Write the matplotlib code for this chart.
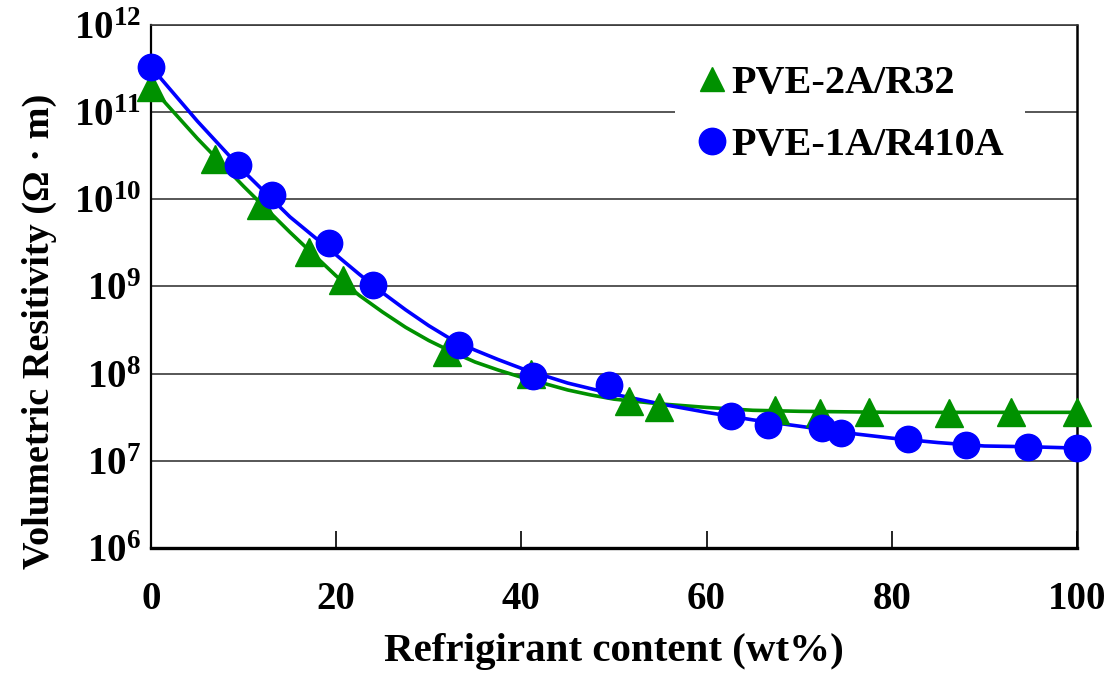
import matplotlib
matplotlib.use("Agg")
import matplotlib.pyplot as plt
from matplotlib.lines import Line2D
from matplotlib.ticker import NullLocator, FixedLocator

plt.rcParams['font.family'] = ['Liberation Serif', 'DejaVu Serif']
plt.rcParams['font.weight'] = 'bold'
plt.rcParams['mathtext.fontset'] = 'custom'
plt.rcParams['mathtext.rm'] = 'Liberation Serif:bold'
plt.rcParams['mathtext.bf'] = 'Liberation Serif:bold'
plt.rcParams['mathtext.it'] = 'Liberation Serif:bold'

# Measured resistivity, PVE-2A oil with R32
r32_content = [0, 6.9, 11.9, 17.1, 20.7, 32.0, 41.0, 51.6, 54.9, 67.4, 72.2, 77.5, 86.2, 92.9, 100]
r32_resist = [1.95e11, 2.9e10, 8.7e9, 2.5e9, 1.2e9, 1.75e8, 1.0e8, 4.8e7, 4.1e7,
              3.8e7, 3.55e7, 3.6e7, 3.55e7, 3.6e7, 3.6e7]

# Measured resistivity, PVE-1A oil with R410A
r410a_content = [0, 9.4, 13.1, 19.2, 24.0, 33.3, 41.2, 49.5, 62.6, 66.6, 72.5, 74.5, 81.8, 88.0, 94.7, 100]
r410a_resist = [3.3e11, 2.45e10, 1.12e10, 3.15e9, 1.05e9, 2.15e8, 9.3e7, 7.4e7, 3.3e7,
                2.6e7, 2.35e7, 2.1e7, 1.8e7, 1.5e7, 1.45e7, 1.4e7]

# Trend curves
r32_curve_x = [0, 5, 10, 15, 20, 22.5, 25, 27.5, 30, 32.5, 35, 37.5, 40, 42.5, 45, 47.5,
               50, 55, 60, 65, 70, 80, 90, 100]
r32_curve_y = [1.95e11, 5.0e10, 1.41e10, 4.2e9, 1.32e9, 7.9e8, 5.1e8, 3.4e8, 2.4e8, 1.78e8,
               1.36e8, 1.1e8, 9.1e7, 7.7e7, 6.5e7, 5.7e7, 5.1e7, 4.5e7, 4.1e7, 3.8e7,
               3.7e7, 3.6e7, 3.6e7, 3.6e7]

r410a_curve_x = [0, 5, 10, 15, 20, 22.5, 25, 27.5, 30, 32.5, 35, 37.5, 40, 45, 50, 55, 60,
                 65, 70, 75, 80, 85, 90, 95, 100]
r410a_curve_y = [3.3e11, 7.9e10, 2.1e10, 6.3e9, 2.3e9, 1.38e9, 8.5e8, 5.4e8, 3.55e8, 2.45e8,
                 1.86e8, 1.45e8, 1.15e8, 7.8e7, 5.8e7, 4.5e7, 3.6e7, 2.95e7, 2.5e7, 2.1e7,
                 1.82e7, 1.62e7, 1.48e7, 1.45e7, 1.4e7]

x_ticks = [0, 20, 40, 60, 80, 100]
y_exponents = [6, 7, 8, 9, 10, 11, 12]

green = '#009100'
blue = '#0000ff'

W, H = 1111, 678
fig = plt.figure(figsize=(W / 100, H / 100), dpi=100)
ax = fig.add_axes([151 / W, 1 - 548 / H, (1077 - 151) / W, (548 - 25) / H])

ax.set_yscale('log')
ax.set_xlim(0, 100)
ax.set_ylim(1e6, 1e12)

ax.yaxis.set_major_locator(FixedLocator([10.0 ** e for e in y_exponents]))
ax.yaxis.set_minor_locator(NullLocator())
ax.set_yticklabels([r'$\mathbf{10^{%d}}$' % e for e in y_exponents])
ax.set_xticks(x_ticks)
ax.set_xticklabels([str(t) for t in x_ticks])

ax.grid(axis='y', color='#3a3a3a', linewidth=1.2)
ax.set_axisbelow(True)
ax.tick_params(axis='y', length=0, pad=7, labelsize=28)
ax.tick_params(axis='x', direction='in', length=12, width=1.2, pad=24, labelsize=28)

ax.spines['top'].set_color('#3a3a3a')
ax.spines['top'].set_linewidth(1.2)
ax.spines['left'].set_linewidth(1.6)
ax.spines['right'].set_linewidth(1.8)
ax.spines['bottom'].set_linewidth(2.4)

# Trend curves
ax.plot(r32_curve_x, r32_curve_y, color=green, linewidth=2.6, zorder=3, clip_on=False)
ax.plot(r410a_curve_x, r410a_curve_y, color=blue, linewidth=2.6, zorder=4, clip_on=False)

# Data markers
ax.plot(r32_content, r32_resist, linestyle='none', marker='^', markersize=20,
        color=green, zorder=5, clip_on=False)
ax.plot(r410a_content, r410a_resist, linestyle='none', marker='o', markersize=19,
        color=blue, zorder=6, clip_on=False)

handles = [
    Line2D([], [], linestyle='none', marker='^', markersize=17, color=green),
    Line2D([], [], linestyle='none', marker='o', markersize=19, color=blue),
]
leg = ax.legend(handles, ['PVE-2A/R32', 'PVE-1A/R410A'], loc='center',
                bbox_to_anchor=(850 / W, 1 - 114.5 / H), bbox_transform=fig.transFigure,
                fontsize=29, frameon=True, facecolor='white', edgecolor='none',
                framealpha=1.0, fancybox=False, handlelength=0.8, handletextpad=0.1,
                borderpad=0.52, labelspacing=0.62)
leg.set_zorder(10)

fig.text(614 / W, 1 - 652 / H, 'Refrigirant content (wt%)', ha='center', va='center',
         fontsize=29.5, fontweight='bold')
fig.text(39 / W, 1 - 331 / H, 'Volumetric Resitivity (Ω · m)', ha='center', va='center',
         rotation=90, fontsize=27.5, fontweight='bold')

fig.savefig('out.png', dpi=100)
